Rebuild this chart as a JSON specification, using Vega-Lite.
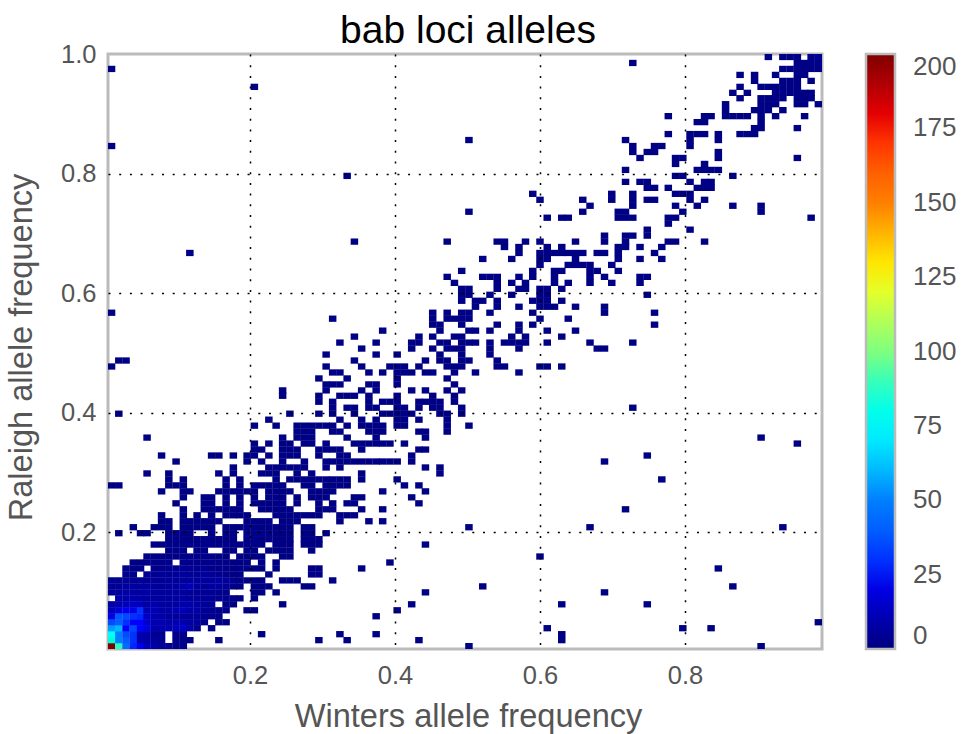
{"$schema":"https://vega.github.io/schema/vega-lite/v6.json","width":714,"height":595,"autosize":"none","padding":{"left":108,"top":54,"right":139,"bottom":85},"background":"white",
"title":{"text":"bab loci alleles","font":"Liberation Sans","fontSize":39,"fontWeight":"normal","color":"black","offset":-9,"dx":3},
"view":{"stroke":"#bbbbbb","strokeWidth":3},
"data":{"values":[
{"x":0.009,"y":0.009,"n":200},{"x":0.019,"y":0.009,"n":88},{"x":0.029,"y":0.009,"n":45},{"x":0.039,"y":0.009,"n":28},{"x":0.049,"y":0.009,"n":22},{"x":0.058,"y":0.009,"n":12},{"x":0.068,"y":0.009,"n":8},{"x":0.078,"y":0.009,"n":5},{"x":0.088,"y":0.009,"n":5},{"x":0.098,"y":0.009,"n":3},{"x":0.108,"y":0.009,"n":3},{"x":0.502,"y":0.009,"n":1},{"x":0.905,"y":0.009,"n":1},
{"x":0.009,"y":0.019,"n":85},{"x":0.019,"y":0.019,"n":50},{"x":0.029,"y":0.019,"n":40},{"x":0.039,"y":0.019,"n":30},{"x":0.049,"y":0.019,"n":10},{"x":0.058,"y":0.019,"n":8},{"x":0.068,"y":0.019,"n":6},{"x":0.078,"y":0.019,"n":5},{"x":0.098,"y":0.019,"n":3},{"x":0.108,"y":0.019,"n":2},{"x":0.117,"y":0.019,"n":1},{"x":0.157,"y":0.019,"n":1},{"x":0.295,"y":0.019,"n":1},{"x":0.334,"y":0.019,"n":1},{"x":0.433,"y":0.019,"n":1},{"x":0.630,"y":0.019,"n":1},
{"x":0.009,"y":0.029,"n":75},{"x":0.019,"y":0.029,"n":50},{"x":0.029,"y":0.029,"n":35},{"x":0.039,"y":0.029,"n":30},{"x":0.049,"y":0.029,"n":10},{"x":0.058,"y":0.029,"n":8},{"x":0.068,"y":0.029,"n":5},{"x":0.078,"y":0.029,"n":3},{"x":0.098,"y":0.029,"n":2},{"x":0.108,"y":0.029,"n":2},{"x":0.216,"y":0.029,"n":1},{"x":0.324,"y":0.029,"n":1},{"x":0.374,"y":0.029,"n":1},{"x":0.630,"y":0.029,"n":1},
{"x":0.009,"y":0.039,"n":55},{"x":0.019,"y":0.039,"n":60},{"x":0.029,"y":0.039,"n":25},{"x":0.039,"y":0.039,"n":35},{"x":0.049,"y":0.039,"n":25},{"x":0.058,"y":0.039,"n":20},{"x":0.068,"y":0.039,"n":8},{"x":0.078,"y":0.039,"n":10},{"x":0.088,"y":0.039,"n":10},{"x":0.098,"y":0.039,"n":12},{"x":0.108,"y":0.039,"n":15},{"x":0.117,"y":0.039,"n":8},{"x":0.127,"y":0.039,"n":2},{"x":0.147,"y":0.039,"n":1},{"x":0.610,"y":0.039,"n":1},{"x":0.797,"y":0.039,"n":1},{"x":0.836,"y":0.039,"n":1},
{"x":0.009,"y":0.049,"n":35},{"x":0.019,"y":0.049,"n":40},{"x":0.029,"y":0.049,"n":30},{"x":0.039,"y":0.049,"n":25},{"x":0.049,"y":0.049,"n":25},{"x":0.058,"y":0.049,"n":15},{"x":0.068,"y":0.049,"n":10},{"x":0.078,"y":0.049,"n":10},{"x":0.088,"y":0.049,"n":8},{"x":0.098,"y":0.049,"n":10},{"x":0.108,"y":0.049,"n":10},{"x":0.117,"y":0.049,"n":8},{"x":0.127,"y":0.049,"n":6},{"x":0.137,"y":0.049,"n":3},{"x":0.157,"y":0.049,"n":1},{"x":0.167,"y":0.049,"n":1},{"x":0.984,"y":0.049,"n":1},
{"x":0.009,"y":0.059,"n":20},{"x":0.019,"y":0.059,"n":38},{"x":0.029,"y":0.059,"n":35},{"x":0.039,"y":0.059,"n":30},{"x":0.049,"y":0.059,"n":28},{"x":0.058,"y":0.059,"n":14},{"x":0.068,"y":0.059,"n":10},{"x":0.078,"y":0.059,"n":8},{"x":0.088,"y":0.059,"n":6},{"x":0.098,"y":0.059,"n":6},{"x":0.108,"y":0.059,"n":5},{"x":0.117,"y":0.059,"n":5},{"x":0.127,"y":0.059,"n":5},{"x":0.137,"y":0.059,"n":4},{"x":0.147,"y":0.059,"n":3},{"x":0.157,"y":0.059,"n":2},{"x":0.374,"y":0.059,"n":1},
{"x":0.009,"y":0.069,"n":12},{"x":0.019,"y":0.069,"n":18},{"x":0.029,"y":0.069,"n":22},{"x":0.039,"y":0.069,"n":20},{"x":0.049,"y":0.069,"n":30},{"x":0.058,"y":0.069,"n":10},{"x":0.068,"y":0.069,"n":12},{"x":0.078,"y":0.069,"n":8},{"x":0.088,"y":0.069,"n":8},{"x":0.098,"y":0.069,"n":10},{"x":0.108,"y":0.069,"n":12},{"x":0.117,"y":0.069,"n":8},{"x":0.127,"y":0.069,"n":8},{"x":0.137,"y":0.069,"n":4},{"x":0.147,"y":0.069,"n":4},{"x":0.157,"y":0.069,"n":3},{"x":0.167,"y":0.069,"n":2},{"x":0.196,"y":0.069,"n":1},{"x":0.206,"y":0.069,"n":1},{"x":0.403,"y":0.069,"n":1},
{"x":0.009,"y":0.079,"n":8},{"x":0.019,"y":0.079,"n":10},{"x":0.029,"y":0.079,"n":12},{"x":0.039,"y":0.079,"n":14},{"x":0.049,"y":0.079,"n":12},{"x":0.058,"y":0.079,"n":8},{"x":0.068,"y":0.079,"n":10},{"x":0.078,"y":0.079,"n":7},{"x":0.088,"y":0.079,"n":7},{"x":0.098,"y":0.079,"n":7},{"x":0.108,"y":0.079,"n":9},{"x":0.117,"y":0.079,"n":9},{"x":0.127,"y":0.079,"n":7},{"x":0.137,"y":0.079,"n":6},{"x":0.147,"y":0.079,"n":4},{"x":0.167,"y":0.079,"n":2},{"x":0.177,"y":0.079,"n":1},{"x":0.245,"y":0.079,"n":1},{"x":0.423,"y":0.079,"n":1},{"x":0.630,"y":0.079,"n":1},{"x":0.748,"y":0.079,"n":1},
{"x":0.019,"y":0.089,"n":8},{"x":0.029,"y":0.089,"n":9},{"x":0.039,"y":0.089,"n":9},{"x":0.049,"y":0.089,"n":8},{"x":0.058,"y":0.089,"n":7},{"x":0.068,"y":0.089,"n":6},{"x":0.078,"y":0.089,"n":6},{"x":0.088,"y":0.089,"n":6},{"x":0.098,"y":0.089,"n":8},{"x":0.108,"y":0.089,"n":7},{"x":0.117,"y":0.089,"n":6},{"x":0.127,"y":0.089,"n":6},{"x":0.137,"y":0.089,"n":5},{"x":0.147,"y":0.089,"n":4},{"x":0.157,"y":0.089,"n":4},{"x":0.167,"y":0.089,"n":3},{"x":0.177,"y":0.089,"n":2},{"x":0.186,"y":0.089,"n":1},{"x":0.206,"y":0.089,"n":1},
{"x":0.009,"y":0.099,"n":5},{"x":0.019,"y":0.099,"n":7},{"x":0.029,"y":0.099,"n":8},{"x":0.039,"y":0.099,"n":8},{"x":0.049,"y":0.099,"n":7},{"x":0.058,"y":0.099,"n":8},{"x":0.068,"y":0.099,"n":7},{"x":0.078,"y":0.099,"n":6},{"x":0.088,"y":0.099,"n":6},{"x":0.098,"y":0.099,"n":6},{"x":0.108,"y":0.099,"n":6},{"x":0.117,"y":0.099,"n":5},{"x":0.127,"y":0.099,"n":5},{"x":0.137,"y":0.099,"n":5},{"x":0.147,"y":0.099,"n":4},{"x":0.157,"y":0.099,"n":3},{"x":0.167,"y":0.099,"n":2},{"x":0.206,"y":0.099,"n":1},{"x":0.216,"y":0.099,"n":1},{"x":0.236,"y":0.099,"n":1},{"x":0.442,"y":0.099,"n":1},{"x":0.689,"y":0.099,"n":1},
{"x":0.009,"y":0.109,"n":4},{"x":0.019,"y":0.109,"n":5},{"x":0.029,"y":0.109,"n":6},{"x":0.039,"y":0.109,"n":6},{"x":0.049,"y":0.109,"n":6},{"x":0.058,"y":0.109,"n":6},{"x":0.068,"y":0.109,"n":6},{"x":0.078,"y":0.109,"n":5},{"x":0.088,"y":0.109,"n":6},{"x":0.098,"y":0.109,"n":7},{"x":0.108,"y":0.109,"n":8},{"x":0.117,"y":0.109,"n":12},{"x":0.127,"y":0.109,"n":6},{"x":0.137,"y":0.109,"n":5},{"x":0.147,"y":0.109,"n":7},{"x":0.157,"y":0.109,"n":6},{"x":0.167,"y":0.109,"n":4},{"x":0.177,"y":0.109,"n":2},{"x":0.186,"y":0.109,"n":1},{"x":0.206,"y":0.109,"n":1},{"x":0.216,"y":0.109,"n":1},{"x":0.226,"y":0.109,"n":1},{"x":0.275,"y":0.109,"n":1},{"x":0.285,"y":0.109,"n":1},{"x":0.521,"y":0.109,"n":1},{"x":0.866,"y":0.109,"n":1},
{"x":0.009,"y":0.119,"n":4},{"x":0.019,"y":0.119,"n":4},{"x":0.029,"y":0.119,"n":5},{"x":0.039,"y":0.119,"n":4},{"x":0.049,"y":0.119,"n":5},{"x":0.058,"y":0.119,"n":5},{"x":0.068,"y":0.119,"n":5},{"x":0.078,"y":0.119,"n":5},{"x":0.088,"y":0.119,"n":6},{"x":0.098,"y":0.119,"n":6},{"x":0.108,"y":0.119,"n":6},{"x":0.117,"y":0.119,"n":7},{"x":0.127,"y":0.119,"n":6},{"x":0.137,"y":0.119,"n":7},{"x":0.147,"y":0.119,"n":6},{"x":0.157,"y":0.119,"n":8},{"x":0.167,"y":0.119,"n":7},{"x":0.177,"y":0.119,"n":3},{"x":0.186,"y":0.119,"n":2},{"x":0.196,"y":0.119,"n":2},{"x":0.206,"y":0.119,"n":1},{"x":0.216,"y":0.119,"n":1},{"x":0.245,"y":0.119,"n":1},{"x":0.255,"y":0.119,"n":1},{"x":0.265,"y":0.119,"n":1},{"x":0.314,"y":0.119,"n":1},
{"x":0.029,"y":0.129,"n":3},{"x":0.039,"y":0.129,"n":2},{"x":0.058,"y":0.129,"n":4},{"x":0.068,"y":0.129,"n":4},{"x":0.078,"y":0.129,"n":5},{"x":0.088,"y":0.129,"n":4},{"x":0.098,"y":0.129,"n":5},{"x":0.108,"y":0.129,"n":6},{"x":0.117,"y":0.129,"n":5},{"x":0.127,"y":0.129,"n":5},{"x":0.137,"y":0.129,"n":6},{"x":0.147,"y":0.129,"n":5},{"x":0.157,"y":0.129,"n":3},{"x":0.167,"y":0.129,"n":2},{"x":0.177,"y":0.129,"n":1},{"x":0.186,"y":0.129,"n":1},{"x":0.226,"y":0.129,"n":1},{"x":0.285,"y":0.129,"n":2},{"x":0.295,"y":0.129,"n":1},
{"x":0.029,"y":0.139,"n":2},{"x":0.039,"y":0.139,"n":2},{"x":0.049,"y":0.139,"n":2},{"x":0.068,"y":0.139,"n":3},{"x":0.078,"y":0.139,"n":3},{"x":0.088,"y":0.139,"n":4},{"x":0.098,"y":0.139,"n":5},{"x":0.108,"y":0.139,"n":4},{"x":0.117,"y":0.139,"n":5},{"x":0.127,"y":0.139,"n":4},{"x":0.137,"y":0.139,"n":4},{"x":0.147,"y":0.139,"n":3},{"x":0.157,"y":0.139,"n":3},{"x":0.167,"y":0.139,"n":2},{"x":0.177,"y":0.139,"n":1},{"x":0.186,"y":0.139,"n":2},{"x":0.196,"y":0.139,"n":1},{"x":0.206,"y":0.139,"n":1},{"x":0.216,"y":0.139,"n":1},{"x":0.236,"y":0.139,"n":1},{"x":0.285,"y":0.139,"n":1},{"x":0.295,"y":0.139,"n":1},{"x":0.354,"y":0.139,"n":1},{"x":0.846,"y":0.139,"n":1},
{"x":0.039,"y":0.149,"n":1},{"x":0.049,"y":0.149,"n":1},{"x":0.058,"y":0.149,"n":2},{"x":0.068,"y":0.149,"n":2},{"x":0.078,"y":0.149,"n":2},{"x":0.088,"y":0.149,"n":3},{"x":0.108,"y":0.149,"n":3},{"x":0.117,"y":0.149,"n":3},{"x":0.127,"y":0.149,"n":3},{"x":0.137,"y":0.149,"n":2},{"x":0.147,"y":0.149,"n":3},{"x":0.157,"y":0.149,"n":2},{"x":0.167,"y":0.149,"n":2},{"x":0.177,"y":0.149,"n":1},{"x":0.186,"y":0.149,"n":1},{"x":0.196,"y":0.149,"n":1},{"x":0.216,"y":0.149,"n":1},{"x":0.236,"y":0.149,"n":1},{"x":0.393,"y":0.149,"n":1},
{"x":0.058,"y":0.159,"n":2},{"x":0.068,"y":0.159,"n":2},{"x":0.078,"y":0.159,"n":2},{"x":0.088,"y":0.159,"n":2},{"x":0.098,"y":0.159,"n":2},{"x":0.108,"y":0.159,"n":2},{"x":0.117,"y":0.159,"n":2},{"x":0.127,"y":0.159,"n":3},{"x":0.137,"y":0.159,"n":3},{"x":0.147,"y":0.159,"n":2},{"x":0.157,"y":0.159,"n":2},{"x":0.167,"y":0.159,"n":1},{"x":0.186,"y":0.159,"n":1},{"x":0.196,"y":0.159,"n":1},{"x":0.206,"y":0.159,"n":1},{"x":0.216,"y":0.159,"n":1},{"x":0.245,"y":0.159,"n":1},{"x":0.255,"y":0.159,"n":1},{"x":0.600,"y":0.159,"n":1},
{"x":0.088,"y":0.169,"n":1},{"x":0.098,"y":0.169,"n":2},{"x":0.108,"y":0.169,"n":2},{"x":0.127,"y":0.169,"n":2},{"x":0.137,"y":0.169,"n":1},{"x":0.167,"y":0.169,"n":1},{"x":0.177,"y":0.169,"n":1},{"x":0.196,"y":0.169,"n":1},{"x":0.206,"y":0.169,"n":1},{"x":0.226,"y":0.169,"n":1},{"x":0.236,"y":0.169,"n":1},{"x":0.245,"y":0.169,"n":1},{"x":0.255,"y":0.169,"n":1},{"x":0.285,"y":0.169,"n":1},
{"x":0.068,"y":0.179,"n":1},{"x":0.078,"y":0.179,"n":1},{"x":0.088,"y":0.179,"n":2},{"x":0.098,"y":0.179,"n":2},{"x":0.108,"y":0.179,"n":2},{"x":0.117,"y":0.179,"n":2},{"x":0.127,"y":0.179,"n":2},{"x":0.137,"y":0.179,"n":3},{"x":0.147,"y":0.179,"n":3},{"x":0.157,"y":0.179,"n":2},{"x":0.167,"y":0.179,"n":2},{"x":0.177,"y":0.179,"n":1},{"x":0.186,"y":0.179,"n":1},{"x":0.196,"y":0.179,"n":2},{"x":0.206,"y":0.179,"n":2},{"x":0.216,"y":0.179,"n":1},{"x":0.236,"y":0.179,"n":1},{"x":0.245,"y":0.179,"n":1},{"x":0.255,"y":0.179,"n":1},{"x":0.275,"y":0.179,"n":1},{"x":0.285,"y":0.179,"n":1},{"x":0.295,"y":0.179,"n":1},{"x":0.442,"y":0.179,"n":1},
{"x":0.088,"y":0.188,"n":2},{"x":0.098,"y":0.188,"n":2},{"x":0.108,"y":0.188,"n":2},{"x":0.117,"y":0.188,"n":1},{"x":0.127,"y":0.188,"n":1},{"x":0.137,"y":0.188,"n":2},{"x":0.147,"y":0.188,"n":1},{"x":0.157,"y":0.188,"n":1},{"x":0.167,"y":0.188,"n":1},{"x":0.177,"y":0.188,"n":1},{"x":0.196,"y":0.188,"n":2},{"x":0.206,"y":0.188,"n":2},{"x":0.216,"y":0.188,"n":1},{"x":0.226,"y":0.188,"n":2},{"x":0.236,"y":0.188,"n":1},{"x":0.245,"y":0.188,"n":1},{"x":0.255,"y":0.188,"n":1},{"x":0.275,"y":0.188,"n":1},{"x":0.285,"y":0.188,"n":1},{"x":0.295,"y":0.188,"n":1},
{"x":0.019,"y":0.198,"n":1},{"x":0.049,"y":0.198,"n":1},{"x":0.058,"y":0.198,"n":1},{"x":0.088,"y":0.198,"n":1},{"x":0.098,"y":0.198,"n":1},{"x":0.108,"y":0.198,"n":1},{"x":0.117,"y":0.198,"n":1},{"x":0.147,"y":0.198,"n":1},{"x":0.167,"y":0.198,"n":1},{"x":0.177,"y":0.198,"n":1},{"x":0.196,"y":0.198,"n":2},{"x":0.206,"y":0.198,"n":2},{"x":0.216,"y":0.198,"n":2},{"x":0.226,"y":0.198,"n":1},{"x":0.236,"y":0.198,"n":1},{"x":0.245,"y":0.198,"n":1},{"x":0.255,"y":0.198,"n":1},{"x":0.275,"y":0.198,"n":1},{"x":0.285,"y":0.198,"n":1},{"x":0.305,"y":0.198,"n":1},
{"x":0.039,"y":0.208,"n":1},{"x":0.068,"y":0.208,"n":1},{"x":0.078,"y":0.208,"n":1},{"x":0.088,"y":0.208,"n":1},{"x":0.108,"y":0.208,"n":1},{"x":0.117,"y":0.208,"n":1},{"x":0.127,"y":0.208,"n":1},{"x":0.137,"y":0.208,"n":1},{"x":0.147,"y":0.208,"n":1},{"x":0.167,"y":0.208,"n":1},{"x":0.177,"y":0.208,"n":1},{"x":0.186,"y":0.208,"n":1},{"x":0.196,"y":0.208,"n":2},{"x":0.206,"y":0.208,"n":2},{"x":0.216,"y":0.208,"n":1},{"x":0.226,"y":0.208,"n":1},{"x":0.236,"y":0.208,"n":1},{"x":0.245,"y":0.208,"n":1},{"x":0.255,"y":0.208,"n":1},{"x":0.275,"y":0.208,"n":1},{"x":0.285,"y":0.208,"n":1},{"x":0.502,"y":0.208,"n":1},{"x":0.669,"y":0.208,"n":1},{"x":0.935,"y":0.208,"n":1},
{"x":0.078,"y":0.218,"n":1},{"x":0.088,"y":0.218,"n":1},{"x":0.108,"y":0.218,"n":1},{"x":0.117,"y":0.218,"n":1},{"x":0.127,"y":0.218,"n":1},{"x":0.137,"y":0.218,"n":1},{"x":0.147,"y":0.218,"n":1},{"x":0.157,"y":0.218,"n":1},{"x":0.196,"y":0.218,"n":1},{"x":0.206,"y":0.218,"n":1},{"x":0.216,"y":0.218,"n":1},{"x":0.226,"y":0.218,"n":2},{"x":0.245,"y":0.218,"n":1},{"x":0.255,"y":0.218,"n":1},{"x":0.265,"y":0.218,"n":1},{"x":0.324,"y":0.218,"n":1},{"x":0.364,"y":0.218,"n":1},{"x":0.383,"y":0.218,"n":1},
{"x":0.078,"y":0.228,"n":1},{"x":0.108,"y":0.228,"n":1},{"x":0.127,"y":0.228,"n":1},{"x":0.147,"y":0.228,"n":1},{"x":0.167,"y":0.228,"n":1},{"x":0.177,"y":0.228,"n":1},{"x":0.186,"y":0.228,"n":1},{"x":0.196,"y":0.228,"n":1},{"x":0.236,"y":0.228,"n":1},{"x":0.245,"y":0.228,"n":1},{"x":0.255,"y":0.228,"n":1},{"x":0.265,"y":0.228,"n":1},{"x":0.275,"y":0.228,"n":1},{"x":0.285,"y":0.228,"n":1},{"x":0.295,"y":0.228,"n":1},{"x":0.324,"y":0.228,"n":1},{"x":0.334,"y":0.228,"n":1},{"x":0.344,"y":0.228,"n":1},
{"x":0.108,"y":0.238,"n":1},{"x":0.137,"y":0.238,"n":1},{"x":0.147,"y":0.238,"n":1},{"x":0.157,"y":0.238,"n":1},{"x":0.167,"y":0.238,"n":1},{"x":0.177,"y":0.238,"n":1},{"x":0.186,"y":0.238,"n":1},{"x":0.216,"y":0.238,"n":1},{"x":0.226,"y":0.238,"n":1},{"x":0.236,"y":0.238,"n":1},{"x":0.245,"y":0.238,"n":1},{"x":0.255,"y":0.238,"n":1},{"x":0.295,"y":0.238,"n":1},{"x":0.305,"y":0.238,"n":1},{"x":0.314,"y":0.238,"n":1},{"x":0.354,"y":0.238,"n":1},{"x":0.383,"y":0.238,"n":1},{"x":0.718,"y":0.238,"n":1},
{"x":0.098,"y":0.248,"n":1},{"x":0.137,"y":0.248,"n":1},{"x":0.147,"y":0.248,"n":1},{"x":0.167,"y":0.248,"n":1},{"x":0.186,"y":0.248,"n":1},{"x":0.206,"y":0.248,"n":1},{"x":0.216,"y":0.248,"n":1},{"x":0.226,"y":0.248,"n":1},{"x":0.236,"y":0.248,"n":1},{"x":0.245,"y":0.248,"n":1},{"x":0.265,"y":0.248,"n":1},{"x":0.295,"y":0.248,"n":1},{"x":0.314,"y":0.248,"n":1},{"x":0.334,"y":0.248,"n":1},{"x":0.344,"y":0.248,"n":1},{"x":0.433,"y":0.248,"n":1},
{"x":0.108,"y":0.258,"n":1},{"x":0.137,"y":0.258,"n":1},{"x":0.147,"y":0.258,"n":1},{"x":0.167,"y":0.258,"n":1},{"x":0.186,"y":0.258,"n":1},{"x":0.206,"y":0.258,"n":1},{"x":0.226,"y":0.258,"n":1},{"x":0.236,"y":0.258,"n":1},{"x":0.245,"y":0.258,"n":1},{"x":0.265,"y":0.258,"n":1},{"x":0.285,"y":0.258,"n":1},{"x":0.295,"y":0.258,"n":1},{"x":0.305,"y":0.258,"n":1},{"x":0.344,"y":0.258,"n":1},{"x":0.354,"y":0.258,"n":1},{"x":0.423,"y":0.258,"n":1},
{"x":0.078,"y":0.268,"n":1},{"x":0.108,"y":0.268,"n":1},{"x":0.117,"y":0.268,"n":1},{"x":0.157,"y":0.268,"n":1},{"x":0.167,"y":0.268,"n":1},{"x":0.177,"y":0.268,"n":1},{"x":0.186,"y":0.268,"n":1},{"x":0.196,"y":0.268,"n":1},{"x":0.206,"y":0.268,"n":1},{"x":0.226,"y":0.268,"n":1},{"x":0.236,"y":0.268,"n":1},{"x":0.245,"y":0.268,"n":1},{"x":0.255,"y":0.268,"n":1},{"x":0.285,"y":0.268,"n":1},{"x":0.295,"y":0.268,"n":1},{"x":0.305,"y":0.268,"n":1},{"x":0.314,"y":0.268,"n":1},{"x":0.383,"y":0.268,"n":1},{"x":0.442,"y":0.268,"n":1},
{"x":0.009,"y":0.278,"n":1},{"x":0.019,"y":0.278,"n":1},{"x":0.088,"y":0.278,"n":1},{"x":0.098,"y":0.278,"n":1},{"x":0.108,"y":0.278,"n":1},{"x":0.167,"y":0.278,"n":1},{"x":0.186,"y":0.278,"n":1},{"x":0.206,"y":0.278,"n":1},{"x":0.216,"y":0.278,"n":1},{"x":0.226,"y":0.278,"n":1},{"x":0.236,"y":0.278,"n":1},{"x":0.245,"y":0.278,"n":1},{"x":0.275,"y":0.278,"n":1},{"x":0.285,"y":0.278,"n":1},{"x":0.305,"y":0.278,"n":1},{"x":0.314,"y":0.278,"n":1},{"x":0.324,"y":0.278,"n":1},{"x":0.334,"y":0.278,"n":1},{"x":0.413,"y":0.278,"n":1},{"x":0.433,"y":0.278,"n":1},
{"x":0.088,"y":0.288,"n":1},{"x":0.108,"y":0.288,"n":1},{"x":0.167,"y":0.288,"n":1},{"x":0.186,"y":0.288,"n":1},{"x":0.236,"y":0.288,"n":1},{"x":0.255,"y":0.288,"n":1},{"x":0.265,"y":0.288,"n":1},{"x":0.275,"y":0.288,"n":1},{"x":0.285,"y":0.288,"n":1},{"x":0.295,"y":0.288,"n":1},{"x":0.305,"y":0.288,"n":1},{"x":0.314,"y":0.288,"n":1},{"x":0.324,"y":0.288,"n":1},{"x":0.334,"y":0.288,"n":1},{"x":0.354,"y":0.288,"n":1},{"x":0.403,"y":0.288,"n":1},{"x":0.768,"y":0.288,"n":1},
{"x":0.058,"y":0.298,"n":1},{"x":0.088,"y":0.298,"n":1},{"x":0.157,"y":0.298,"n":1},{"x":0.177,"y":0.298,"n":1},{"x":0.216,"y":0.298,"n":1},{"x":0.226,"y":0.298,"n":1},{"x":0.236,"y":0.298,"n":1},{"x":0.265,"y":0.298,"n":1},{"x":0.285,"y":0.298,"n":1},{"x":0.354,"y":0.298,"n":1},{"x":0.462,"y":0.298,"n":1},
{"x":0.177,"y":0.308,"n":1},{"x":0.226,"y":0.308,"n":1},{"x":0.236,"y":0.308,"n":1},{"x":0.245,"y":0.308,"n":1},{"x":0.255,"y":0.308,"n":1},{"x":0.265,"y":0.308,"n":1},{"x":0.275,"y":0.308,"n":1},{"x":0.305,"y":0.308,"n":1},{"x":0.324,"y":0.308,"n":1},{"x":0.442,"y":0.308,"n":1},{"x":0.462,"y":0.308,"n":1},
{"x":0.098,"y":0.318,"n":1},{"x":0.196,"y":0.318,"n":1},{"x":0.216,"y":0.318,"n":1},{"x":0.245,"y":0.318,"n":1},{"x":0.275,"y":0.318,"n":1},{"x":0.305,"y":0.318,"n":1},{"x":0.314,"y":0.318,"n":1},{"x":0.324,"y":0.318,"n":1},{"x":0.334,"y":0.318,"n":1},{"x":0.344,"y":0.318,"n":1},{"x":0.354,"y":0.318,"n":1},{"x":0.364,"y":0.318,"n":1},{"x":0.374,"y":0.318,"n":1},{"x":0.383,"y":0.318,"n":1},{"x":0.393,"y":0.318,"n":1},{"x":0.403,"y":0.318,"n":1},{"x":0.423,"y":0.318,"n":1},{"x":0.689,"y":0.318,"n":1},
{"x":0.078,"y":0.328,"n":1},{"x":0.147,"y":0.328,"n":1},{"x":0.157,"y":0.328,"n":1},{"x":0.177,"y":0.328,"n":1},{"x":0.196,"y":0.328,"n":1},{"x":0.206,"y":0.328,"n":1},{"x":0.226,"y":0.328,"n":1},{"x":0.245,"y":0.328,"n":1},{"x":0.255,"y":0.328,"n":1},{"x":0.265,"y":0.328,"n":1},{"x":0.295,"y":0.328,"n":1},{"x":0.324,"y":0.328,"n":1},{"x":0.334,"y":0.328,"n":1},{"x":0.423,"y":0.328,"n":1},{"x":0.748,"y":0.328,"n":1},
{"x":0.206,"y":0.338,"n":1},{"x":0.216,"y":0.338,"n":1},{"x":0.245,"y":0.338,"n":1},{"x":0.255,"y":0.338,"n":1},{"x":0.265,"y":0.338,"n":1},{"x":0.295,"y":0.338,"n":1},{"x":0.305,"y":0.338,"n":1},{"x":0.314,"y":0.338,"n":1},{"x":0.324,"y":0.338,"n":1},{"x":0.354,"y":0.338,"n":1},{"x":0.433,"y":0.338,"n":1},{"x":0.442,"y":0.338,"n":1},
{"x":0.206,"y":0.348,"n":1},{"x":0.226,"y":0.348,"n":1},{"x":0.245,"y":0.348,"n":1},{"x":0.255,"y":0.348,"n":1},{"x":0.275,"y":0.348,"n":1},{"x":0.285,"y":0.348,"n":1},{"x":0.305,"y":0.348,"n":1},{"x":0.344,"y":0.348,"n":1},{"x":0.354,"y":0.348,"n":1},{"x":0.364,"y":0.348,"n":1},{"x":0.374,"y":0.348,"n":1},{"x":0.383,"y":0.348,"n":1},{"x":0.393,"y":0.348,"n":1},{"x":0.413,"y":0.348,"n":1},{"x":0.955,"y":0.348,"n":1},
{"x":0.058,"y":0.358,"n":1},{"x":0.245,"y":0.358,"n":1},{"x":0.265,"y":0.358,"n":1},{"x":0.275,"y":0.358,"n":1},{"x":0.285,"y":0.358,"n":1},{"x":0.334,"y":0.358,"n":1},{"x":0.374,"y":0.358,"n":1},{"x":0.442,"y":0.358,"n":1},{"x":0.905,"y":0.358,"n":1},
{"x":0.265,"y":0.368,"n":1},{"x":0.275,"y":0.368,"n":1},{"x":0.285,"y":0.368,"n":1},{"x":0.314,"y":0.368,"n":1},{"x":0.324,"y":0.368,"n":1},{"x":0.364,"y":0.368,"n":1},{"x":0.374,"y":0.368,"n":1},{"x":0.383,"y":0.368,"n":1},{"x":0.433,"y":0.368,"n":1},{"x":0.442,"y":0.368,"n":1},{"x":0.472,"y":0.368,"n":1},
{"x":0.206,"y":0.378,"n":1},{"x":0.236,"y":0.378,"n":1},{"x":0.265,"y":0.378,"n":1},{"x":0.275,"y":0.378,"n":1},{"x":0.285,"y":0.378,"n":1},{"x":0.295,"y":0.378,"n":1},{"x":0.305,"y":0.378,"n":1},{"x":0.314,"y":0.378,"n":1},{"x":0.334,"y":0.378,"n":1},{"x":0.354,"y":0.378,"n":1},{"x":0.364,"y":0.378,"n":1},{"x":0.374,"y":0.378,"n":1},{"x":0.383,"y":0.378,"n":1},{"x":0.403,"y":0.378,"n":1},{"x":0.413,"y":0.378,"n":1},{"x":0.472,"y":0.378,"n":1},{"x":0.502,"y":0.378,"n":1},
{"x":0.226,"y":0.388,"n":1},{"x":0.324,"y":0.388,"n":1},{"x":0.354,"y":0.388,"n":1},{"x":0.374,"y":0.388,"n":1},{"x":0.403,"y":0.388,"n":1},{"x":0.413,"y":0.388,"n":1},{"x":0.433,"y":0.388,"n":1},{"x":0.472,"y":0.388,"n":1},
{"x":0.019,"y":0.398,"n":1},{"x":0.255,"y":0.398,"n":1},{"x":0.295,"y":0.398,"n":1},{"x":0.314,"y":0.398,"n":1},{"x":0.344,"y":0.398,"n":1},{"x":0.383,"y":0.398,"n":1},{"x":0.393,"y":0.398,"n":1},{"x":0.403,"y":0.398,"n":1},{"x":0.413,"y":0.398,"n":1},{"x":0.423,"y":0.398,"n":1},{"x":0.462,"y":0.398,"n":1},{"x":0.472,"y":0.398,"n":1},{"x":0.492,"y":0.398,"n":1},
{"x":0.314,"y":0.408,"n":1},{"x":0.334,"y":0.408,"n":1},{"x":0.344,"y":0.408,"n":1},{"x":0.364,"y":0.408,"n":1},{"x":0.374,"y":0.408,"n":1},{"x":0.403,"y":0.408,"n":1},{"x":0.413,"y":0.408,"n":1},{"x":0.433,"y":0.408,"n":1},{"x":0.452,"y":0.408,"n":1},{"x":0.462,"y":0.408,"n":1},{"x":0.492,"y":0.408,"n":1},{"x":0.728,"y":0.408,"n":1},
{"x":0.295,"y":0.418,"n":1},{"x":0.314,"y":0.418,"n":1},{"x":0.364,"y":0.418,"n":1},{"x":0.383,"y":0.418,"n":1},{"x":0.393,"y":0.418,"n":1},{"x":0.403,"y":0.418,"n":1},{"x":0.433,"y":0.418,"n":1},{"x":0.442,"y":0.418,"n":1},{"x":0.452,"y":0.418,"n":1},{"x":0.462,"y":0.418,"n":1},{"x":0.482,"y":0.418,"n":1},
{"x":0.245,"y":0.428,"n":1},{"x":0.295,"y":0.428,"n":1},{"x":0.324,"y":0.428,"n":1},{"x":0.334,"y":0.428,"n":1},{"x":0.344,"y":0.428,"n":1},{"x":0.364,"y":0.428,"n":1},{"x":0.403,"y":0.428,"n":1},{"x":0.452,"y":0.428,"n":1},{"x":0.482,"y":0.428,"n":1},
{"x":0.245,"y":0.437,"n":1},{"x":0.305,"y":0.437,"n":1},{"x":0.354,"y":0.437,"n":1},{"x":0.374,"y":0.437,"n":1},{"x":0.423,"y":0.437,"n":1},{"x":0.442,"y":0.437,"n":1},{"x":0.472,"y":0.437,"n":1},{"x":0.492,"y":0.437,"n":1},
{"x":0.305,"y":0.447,"n":1},{"x":0.314,"y":0.447,"n":1},{"x":0.324,"y":0.447,"n":1},{"x":0.364,"y":0.447,"n":1},{"x":0.374,"y":0.447,"n":1},{"x":0.403,"y":0.447,"n":1},{"x":0.482,"y":0.447,"n":1},
{"x":0.295,"y":0.457,"n":1},{"x":0.334,"y":0.457,"n":1},{"x":0.403,"y":0.457,"n":1},{"x":0.472,"y":0.457,"n":1},
{"x":0.314,"y":0.467,"n":1},{"x":0.324,"y":0.467,"n":1},{"x":0.364,"y":0.467,"n":1},{"x":0.383,"y":0.467,"n":1},{"x":0.403,"y":0.467,"n":1},{"x":0.413,"y":0.467,"n":1},{"x":0.423,"y":0.467,"n":1},{"x":0.442,"y":0.467,"n":1},{"x":0.452,"y":0.467,"n":1},{"x":0.482,"y":0.467,"n":1},{"x":0.511,"y":0.467,"n":1},{"x":0.571,"y":0.467,"n":1},
{"x":0.009,"y":0.477,"n":1},{"x":0.305,"y":0.477,"n":1},{"x":0.354,"y":0.477,"n":1},{"x":0.393,"y":0.477,"n":1},{"x":0.403,"y":0.477,"n":1},{"x":0.413,"y":0.477,"n":1},{"x":0.433,"y":0.477,"n":1},{"x":0.472,"y":0.477,"n":1},{"x":0.482,"y":0.477,"n":1},{"x":0.492,"y":0.477,"n":1},{"x":0.541,"y":0.477,"n":1},{"x":0.551,"y":0.477,"n":1},{"x":0.600,"y":0.477,"n":1},{"x":0.610,"y":0.477,"n":1},{"x":0.630,"y":0.477,"n":1},
{"x":0.019,"y":0.487,"n":1},{"x":0.029,"y":0.487,"n":1},{"x":0.344,"y":0.487,"n":1},{"x":0.442,"y":0.487,"n":1},{"x":0.462,"y":0.487,"n":1},{"x":0.472,"y":0.487,"n":1},{"x":0.492,"y":0.487,"n":1},{"x":0.502,"y":0.487,"n":1},{"x":0.541,"y":0.487,"n":1},
{"x":0.305,"y":0.497,"n":1},{"x":0.374,"y":0.497,"n":1},{"x":0.403,"y":0.497,"n":1},{"x":0.462,"y":0.497,"n":1},{"x":0.492,"y":0.497,"n":1},{"x":0.531,"y":0.497,"n":1},
{"x":0.354,"y":0.507,"n":1},{"x":0.423,"y":0.507,"n":1},{"x":0.452,"y":0.507,"n":1},{"x":0.472,"y":0.507,"n":1},{"x":0.482,"y":0.507,"n":1},{"x":0.492,"y":0.507,"n":1},{"x":0.531,"y":0.507,"n":1},{"x":0.571,"y":0.507,"n":1},{"x":0.679,"y":0.507,"n":1},{"x":0.689,"y":0.507,"n":1},
{"x":0.324,"y":0.517,"n":1},{"x":0.374,"y":0.517,"n":1},{"x":0.423,"y":0.517,"n":1},{"x":0.433,"y":0.517,"n":1},{"x":0.462,"y":0.517,"n":1},{"x":0.472,"y":0.517,"n":1},{"x":0.492,"y":0.517,"n":1},{"x":0.502,"y":0.517,"n":1},{"x":0.511,"y":0.517,"n":1},{"x":0.531,"y":0.517,"n":1},{"x":0.551,"y":0.517,"n":1},{"x":0.561,"y":0.517,"n":1},{"x":0.571,"y":0.517,"n":1},{"x":0.580,"y":0.517,"n":1},{"x":0.610,"y":0.517,"n":1},{"x":0.669,"y":0.517,"n":1},{"x":0.728,"y":0.517,"n":1},
{"x":0.344,"y":0.527,"n":1},{"x":0.433,"y":0.527,"n":1},{"x":0.452,"y":0.527,"n":1},{"x":0.482,"y":0.527,"n":1},{"x":0.492,"y":0.527,"n":1},{"x":0.561,"y":0.527,"n":1},{"x":0.580,"y":0.527,"n":1},{"x":0.630,"y":0.527,"n":1},
{"x":0.383,"y":0.537,"n":1},{"x":0.462,"y":0.537,"n":1},{"x":0.502,"y":0.537,"n":1},{"x":0.511,"y":0.537,"n":1},{"x":0.531,"y":0.537,"n":1},{"x":0.571,"y":0.537,"n":1},{"x":0.610,"y":0.537,"n":1},{"x":0.649,"y":0.537,"n":1},
{"x":0.452,"y":0.547,"n":1},{"x":0.462,"y":0.547,"n":1},{"x":0.492,"y":0.547,"n":1},{"x":0.541,"y":0.547,"n":1},{"x":0.571,"y":0.547,"n":1},{"x":0.590,"y":0.547,"n":1},{"x":0.758,"y":0.547,"n":1},
{"x":0.314,"y":0.557,"n":1},{"x":0.452,"y":0.557,"n":1},{"x":0.472,"y":0.557,"n":1},{"x":0.482,"y":0.557,"n":1},{"x":0.492,"y":0.557,"n":1},{"x":0.502,"y":0.557,"n":1},{"x":0.600,"y":0.557,"n":1},{"x":0.639,"y":0.557,"n":1},
{"x":0.009,"y":0.567,"n":1},{"x":0.452,"y":0.567,"n":1},{"x":0.472,"y":0.567,"n":1},{"x":0.492,"y":0.567,"n":1},{"x":0.502,"y":0.567,"n":1},{"x":0.531,"y":0.567,"n":1},{"x":0.590,"y":0.567,"n":1},{"x":0.689,"y":0.567,"n":1},{"x":0.758,"y":0.567,"n":1},
{"x":0.511,"y":0.577,"n":1},{"x":0.541,"y":0.577,"n":1},{"x":0.571,"y":0.577,"n":1},{"x":0.600,"y":0.577,"n":1},{"x":0.610,"y":0.577,"n":1},{"x":0.620,"y":0.577,"n":1},{"x":0.649,"y":0.577,"n":1},{"x":0.689,"y":0.577,"n":1},
{"x":0.492,"y":0.587,"n":1},{"x":0.511,"y":0.587,"n":1},{"x":0.521,"y":0.587,"n":1},{"x":0.541,"y":0.587,"n":1},{"x":0.590,"y":0.587,"n":1},{"x":0.600,"y":0.587,"n":1},{"x":0.610,"y":0.587,"n":1},{"x":0.630,"y":0.587,"n":1},
{"x":0.492,"y":0.597,"n":1},{"x":0.502,"y":0.597,"n":1},{"x":0.531,"y":0.597,"n":1},{"x":0.561,"y":0.597,"n":1},{"x":0.600,"y":0.597,"n":1},{"x":0.610,"y":0.597,"n":1},{"x":0.748,"y":0.597,"n":1},
{"x":0.492,"y":0.607,"n":1},{"x":0.502,"y":0.607,"n":1},{"x":0.541,"y":0.607,"n":1},{"x":0.571,"y":0.607,"n":1},{"x":0.580,"y":0.607,"n":1},{"x":0.600,"y":0.607,"n":1},{"x":0.610,"y":0.607,"n":1},{"x":0.630,"y":0.607,"n":1},
{"x":0.482,"y":0.617,"n":1},{"x":0.541,"y":0.617,"n":1},{"x":0.561,"y":0.617,"n":1},{"x":0.580,"y":0.617,"n":1},{"x":0.620,"y":0.617,"n":1},{"x":0.639,"y":0.617,"n":1},{"x":0.669,"y":0.617,"n":1},{"x":0.699,"y":0.617,"n":1},{"x":0.738,"y":0.617,"n":1},
{"x":0.472,"y":0.627,"n":1},{"x":0.521,"y":0.627,"n":1},{"x":0.531,"y":0.627,"n":1},{"x":0.541,"y":0.627,"n":1},{"x":0.571,"y":0.627,"n":1},{"x":0.590,"y":0.627,"n":1},{"x":0.620,"y":0.627,"n":1},{"x":0.669,"y":0.627,"n":1},{"x":0.689,"y":0.627,"n":1},{"x":0.738,"y":0.627,"n":1},{"x":0.748,"y":0.627,"n":1},
{"x":0.492,"y":0.637,"n":1},{"x":0.590,"y":0.637,"n":1},{"x":0.620,"y":0.637,"n":1},{"x":0.630,"y":0.637,"n":1},{"x":0.669,"y":0.637,"n":1},{"x":0.679,"y":0.637,"n":1},{"x":0.708,"y":0.637,"n":1},
{"x":0.600,"y":0.647,"n":1},{"x":0.639,"y":0.647,"n":1},{"x":0.649,"y":0.647,"n":1},{"x":0.659,"y":0.647,"n":1},{"x":0.669,"y":0.647,"n":1},{"x":0.699,"y":0.647,"n":1},
{"x":0.521,"y":0.657,"n":1},{"x":0.561,"y":0.657,"n":1},{"x":0.600,"y":0.657,"n":1},{"x":0.610,"y":0.657,"n":1},{"x":0.649,"y":0.657,"n":1},{"x":0.708,"y":0.657,"n":1},{"x":0.738,"y":0.657,"n":1},{"x":0.768,"y":0.657,"n":1},
{"x":0.117,"y":0.667,"n":1},{"x":0.571,"y":0.667,"n":1},{"x":0.600,"y":0.667,"n":1},{"x":0.610,"y":0.667,"n":1},{"x":0.620,"y":0.667,"n":1},{"x":0.630,"y":0.667,"n":1},{"x":0.639,"y":0.667,"n":1},{"x":0.649,"y":0.667,"n":1},{"x":0.659,"y":0.667,"n":1},{"x":0.679,"y":0.667,"n":1},{"x":0.689,"y":0.667,"n":1},{"x":0.708,"y":0.667,"n":1},{"x":0.758,"y":0.667,"n":1},
{"x":0.551,"y":0.677,"n":1},{"x":0.571,"y":0.677,"n":1},{"x":0.610,"y":0.677,"n":1},{"x":0.630,"y":0.677,"n":1},{"x":0.708,"y":0.677,"n":1},{"x":0.718,"y":0.677,"n":1},{"x":0.738,"y":0.677,"n":1},{"x":0.768,"y":0.677,"n":1},
{"x":0.344,"y":0.686,"n":1},{"x":0.472,"y":0.686,"n":1},{"x":0.541,"y":0.686,"n":1},{"x":0.551,"y":0.686,"n":1},{"x":0.580,"y":0.686,"n":1},{"x":0.600,"y":0.686,"n":1},{"x":0.649,"y":0.686,"n":1},{"x":0.689,"y":0.686,"n":1},{"x":0.718,"y":0.686,"n":1},{"x":0.777,"y":0.686,"n":1},{"x":0.787,"y":0.686,"n":1},{"x":0.827,"y":0.686,"n":1},
{"x":0.689,"y":0.696,"n":1},{"x":0.718,"y":0.696,"n":1},{"x":0.728,"y":0.696,"n":1},{"x":0.748,"y":0.696,"n":1},
{"x":0.748,"y":0.706,"n":1},{"x":0.807,"y":0.706,"n":1},
{"x":0.777,"y":0.716,"n":1},
{"x":0.610,"y":0.726,"n":1},{"x":0.630,"y":0.726,"n":1},{"x":0.639,"y":0.726,"n":1},{"x":0.708,"y":0.726,"n":1},{"x":0.718,"y":0.726,"n":1},{"x":0.728,"y":0.726,"n":1},{"x":0.777,"y":0.726,"n":1},{"x":0.787,"y":0.726,"n":1},{"x":0.974,"y":0.726,"n":1},
{"x":0.502,"y":0.736,"n":1},{"x":0.659,"y":0.736,"n":1},{"x":0.708,"y":0.736,"n":1},{"x":0.718,"y":0.736,"n":1},{"x":0.797,"y":0.736,"n":1},{"x":0.905,"y":0.736,"n":1},
{"x":0.669,"y":0.746,"n":1},{"x":0.728,"y":0.746,"n":1},{"x":0.787,"y":0.746,"n":1},{"x":0.817,"y":0.746,"n":1},{"x":0.866,"y":0.746,"n":1},{"x":0.905,"y":0.746,"n":1},
{"x":0.600,"y":0.756,"n":1},{"x":0.659,"y":0.756,"n":1},{"x":0.699,"y":0.756,"n":1},{"x":0.728,"y":0.756,"n":1},{"x":0.748,"y":0.756,"n":1},{"x":0.758,"y":0.756,"n":1},{"x":0.807,"y":0.756,"n":1},{"x":0.827,"y":0.756,"n":1},
{"x":0.590,"y":0.766,"n":1},{"x":0.699,"y":0.766,"n":1},{"x":0.728,"y":0.766,"n":1},{"x":0.787,"y":0.766,"n":1},{"x":0.797,"y":0.766,"n":1},{"x":0.807,"y":0.766,"n":1},
{"x":0.748,"y":0.776,"n":1},{"x":0.758,"y":0.776,"n":1},{"x":0.777,"y":0.776,"n":1},{"x":0.817,"y":0.776,"n":1},{"x":0.827,"y":0.776,"n":1},{"x":0.836,"y":0.776,"n":1},
{"x":0.718,"y":0.786,"n":1},{"x":0.738,"y":0.786,"n":1},{"x":0.748,"y":0.786,"n":1},{"x":0.807,"y":0.786,"n":1},{"x":0.827,"y":0.786,"n":1},{"x":0.836,"y":0.786,"n":1},
{"x":0.334,"y":0.796,"n":1},{"x":0.787,"y":0.796,"n":1},{"x":0.797,"y":0.796,"n":1},{"x":0.866,"y":0.796,"n":1},
{"x":0.718,"y":0.806,"n":1},{"x":0.817,"y":0.806,"n":1},{"x":0.827,"y":0.806,"n":1},{"x":0.836,"y":0.806,"n":1},{"x":0.846,"y":0.806,"n":1},
{"x":0.787,"y":0.816,"n":1},{"x":0.827,"y":0.816,"n":1},
{"x":0.738,"y":0.826,"n":1},{"x":0.787,"y":0.826,"n":1},{"x":0.797,"y":0.826,"n":1},{"x":0.846,"y":0.826,"n":1},{"x":0.955,"y":0.826,"n":1},
{"x":0.728,"y":0.836,"n":1},{"x":0.748,"y":0.836,"n":1},{"x":0.758,"y":0.836,"n":1},{"x":0.846,"y":0.836,"n":1},
{"x":0.009,"y":0.846,"n":1},{"x":0.728,"y":0.846,"n":1},{"x":0.758,"y":0.846,"n":1},{"x":0.768,"y":0.846,"n":1},{"x":0.807,"y":0.846,"n":1},
{"x":0.502,"y":0.856,"n":1},{"x":0.718,"y":0.856,"n":1},{"x":0.807,"y":0.856,"n":1},{"x":0.846,"y":0.856,"n":1},
{"x":0.777,"y":0.866,"n":1},{"x":0.807,"y":0.866,"n":1},{"x":0.817,"y":0.866,"n":1},{"x":0.827,"y":0.866,"n":1},{"x":0.846,"y":0.866,"n":1},{"x":0.876,"y":0.866,"n":1},{"x":0.886,"y":0.866,"n":1},{"x":0.896,"y":0.866,"n":1},
{"x":0.896,"y":0.876,"n":1},{"x":0.905,"y":0.876,"n":1},{"x":0.955,"y":0.876,"n":1},
{"x":0.817,"y":0.886,"n":1},{"x":0.827,"y":0.886,"n":1},{"x":0.905,"y":0.886,"n":1},
{"x":0.777,"y":0.896,"n":1},{"x":0.827,"y":0.896,"n":1},{"x":0.836,"y":0.896,"n":1},{"x":0.856,"y":0.896,"n":1},{"x":0.866,"y":0.896,"n":1},{"x":0.876,"y":0.896,"n":1},{"x":0.886,"y":0.896,"n":1},{"x":0.905,"y":0.896,"n":1},{"x":0.925,"y":0.896,"n":1},{"x":0.965,"y":0.896,"n":1},
{"x":0.856,"y":0.906,"n":1},{"x":0.896,"y":0.906,"n":1},{"x":0.905,"y":0.906,"n":1},{"x":0.915,"y":0.906,"n":1},{"x":0.935,"y":0.906,"n":1},
{"x":0.856,"y":0.916,"n":1},{"x":0.905,"y":0.916,"n":1},{"x":0.915,"y":0.916,"n":1},{"x":0.925,"y":0.916,"n":1},{"x":0.955,"y":0.916,"n":1},{"x":0.965,"y":0.916,"n":1},{"x":0.984,"y":0.916,"n":1},
{"x":0.876,"y":0.926,"n":1},{"x":0.905,"y":0.926,"n":1},{"x":0.915,"y":0.926,"n":1},{"x":0.925,"y":0.926,"n":1},{"x":0.935,"y":0.926,"n":1},{"x":0.955,"y":0.926,"n":1},{"x":0.965,"y":0.926,"n":1},{"x":0.974,"y":0.926,"n":1},
{"x":0.866,"y":0.935,"n":1},{"x":0.886,"y":0.935,"n":1},{"x":0.925,"y":0.935,"n":1},{"x":0.935,"y":0.935,"n":1},{"x":0.945,"y":0.935,"n":1},{"x":0.955,"y":0.935,"n":1},{"x":0.965,"y":0.935,"n":1},{"x":0.974,"y":0.935,"n":1},
{"x":0.206,"y":0.945,"n":1},{"x":0.876,"y":0.945,"n":1},{"x":0.905,"y":0.945,"n":1},{"x":0.915,"y":0.945,"n":1},{"x":0.925,"y":0.945,"n":1},{"x":0.935,"y":0.945,"n":1},{"x":0.945,"y":0.945,"n":1},{"x":0.955,"y":0.945,"n":1},
{"x":0.896,"y":0.955,"n":1},{"x":0.935,"y":0.955,"n":1},{"x":0.945,"y":0.955,"n":1},{"x":0.955,"y":0.955,"n":1},{"x":0.974,"y":0.955,"n":1},
{"x":0.876,"y":0.965,"n":1},{"x":0.896,"y":0.965,"n":1},{"x":0.925,"y":0.965,"n":1},{"x":0.955,"y":0.965,"n":1},{"x":0.965,"y":0.965,"n":1},
{"x":0.009,"y":0.975,"n":1},{"x":0.935,"y":0.975,"n":1},{"x":0.945,"y":0.975,"n":1},{"x":0.955,"y":0.975,"n":2},{"x":0.965,"y":0.975,"n":2},{"x":0.974,"y":0.975,"n":1},{"x":0.984,"y":0.975,"n":1},
{"x":0.728,"y":0.985,"n":1},{"x":0.955,"y":0.985,"n":1},{"x":0.965,"y":0.985,"n":1},{"x":0.974,"y":0.985,"n":2},{"x":0.984,"y":0.985,"n":2},
{"x":0.915,"y":0.995,"n":1},{"x":0.935,"y":0.995,"n":1},{"x":0.945,"y":0.995,"n":1},{"x":0.955,"y":0.995,"n":1},{"x":0.974,"y":0.995,"n":3},{"x":0.984,"y":0.995,"n":4}
]},
"mark":{"type":"rect","width":7.5,"height":6.3,"clip":true},
"encoding":{
"x":{"field":"x","type":"quantitative","scale":{"domain":[0.0041,0.989],"nice":false,"zero":false},"axis":{"values":[0.2,0.4,0.6,0.8],"format":".1f","title":"Winters allele frequency","titleFont":"Liberation Sans","titleFontSize":32.6,"titleFontWeight":"normal","titleColor":"#555555","titleX":360,"titlePadding":12,"labelFont":"Liberation Sans","labelFontSize":25.5,"labelColor":"#555555","labelPadding":14,"domain":false,"ticks":false,"grid":true,"gridColor":"black","gridWidth":1.5,"gridDash":[2,8.7],"zindex":1}},
"y":{"field":"y","type":"quantitative","scale":{"domain":[0.0042,1.0],"nice":false,"zero":false},"axis":{"values":[0.2,0.4,0.6,0.8,1.0],"format":".1f","title":"Raleigh allele frequency","titleFont":"Liberation Sans","titleFontSize":32.6,"titleFontWeight":"normal","titleColor":"#555555","titleX":-70,"titleY":293,"labelFont":"Liberation Sans","labelFontSize":25.5,"labelColor":"#555555","labelPadding":12,"domain":false,"ticks":false,"grid":true,"gridColor":"black","gridWidth":1.5,"gridDash":[2,8.7],"gridOpacity":{"condition":{"test":"datum.value>0.9","value":0},"value":1},"zindex":1}},
"color":{"field":"n","type":"quantitative","scale":{"domain":[0,25,50,75,100,125,150,175,200],"range":["#00007f","#0000ff","#007fff","#00ffff","#7fff7f","#ffff00","#ff7f00","#ff0000","#7f0000"]},"legend":{"title":null,"orient":"none","legendX":758,"legendY":0,"gradientLength":595,"gradientThickness":29,"gradientStrokeColor":"#bbbbbb","gradientStrokeWidth":2.5,"values":[0,25,50,75,100,125,150,175,200],"labelFont":"Liberation Sans","labelFontSize":26,"labelColor":"#555555","labelOffset":18,"labelOverlap":false,"labelBaseline":"middle"}}
}}
